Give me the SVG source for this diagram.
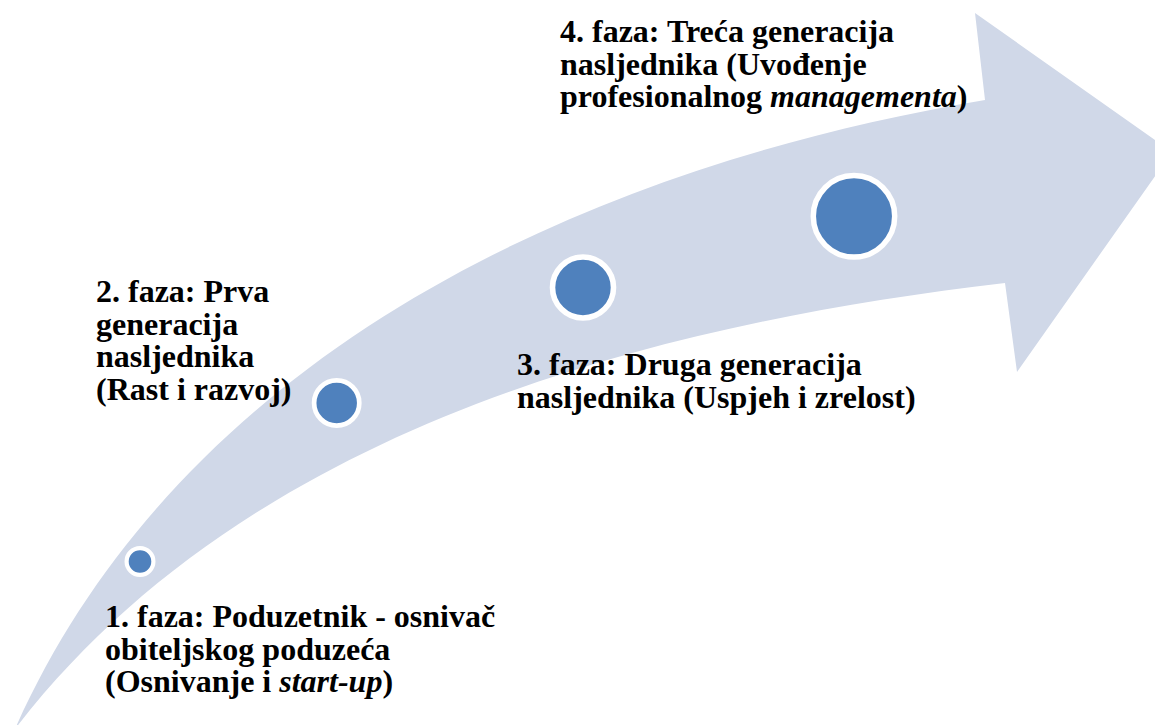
<svg xmlns="http://www.w3.org/2000/svg" width="1155" height="725" viewBox="0 0 1155 725">
<style>
.lbl{font-family:"Liberation Serif","Times New Roman",serif;font-weight:bold;font-size:32px;fill:#000}
.dot{fill:#4F81BD;stroke:#FFFFFF}
</style>
<rect width="1155" height="725" fill="#FFFFFF"/>
<g id="arrow">
<path d="M 15,729 C 170,380 540,175 985,100 L 975,13 L 1172,152 L 1017,372 L 1005,283 C 600,330 230,450 15,729 Z" fill="#D0D8E8"/>
</g>
<g id="phase1">
<circle class="dot" cx="140" cy="561.5" r="13.4" stroke-width="4.2"/>
<text class="lbl" x="105" y="627">1. faza: Poduzetnik - osnivač</text>
<text class="lbl" x="105" y="659.5">obiteljskog poduzeća</text>
<text class="lbl" x="105" y="692">(Osnivanje i <tspan font-style="italic">start-up</tspan>)</text>
</g>
<g id="phase2">
<circle class="dot" cx="336.7" cy="403" r="22.6" stroke-width="4.7"/>
<text class="lbl" x="96" y="302">2. faza: Prva</text>
<text class="lbl" x="96" y="334.5">generacija</text>
<text class="lbl" x="96" y="367">nasljednika</text>
<text class="lbl" x="96" y="399.5">(Rast i razvoj)</text>
</g>
<g id="phase3">
<circle class="dot" cx="583" cy="287.5" r="30.5" stroke-width="5.6"/>
<text class="lbl" x="517" y="375">3. faza: Druga generacija</text>
<text class="lbl" x="517" y="407.5">nasljednika (Uspjeh i zrelost)</text>
</g>
<g id="phase4">
<circle class="dot" cx="854" cy="216.3" r="40.7" stroke-width="5.5"/>
<text class="lbl" x="560" y="42">4. faza: Treća generacija</text>
<text class="lbl" x="560" y="74.5">nasljednika (Uvođenje</text>
<text class="lbl" x="560" y="107">profesionalnog <tspan font-style="italic">managementa</tspan>)</text>
</g>
<g id="connectors"></g>
</svg>
